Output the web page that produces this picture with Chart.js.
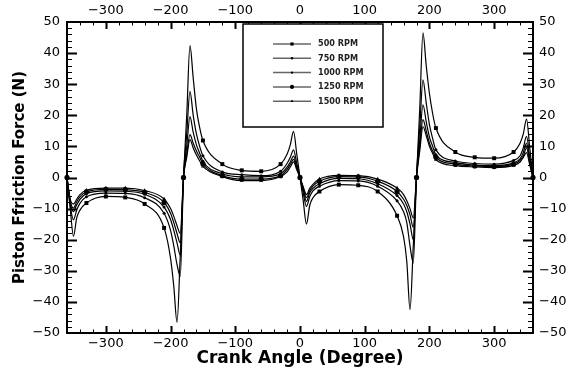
<!DOCTYPE html>
<html>
<head>
<meta charset="utf-8">
<script src="https://cdn.jsdelivr.net/npm/chart.js@4.4.1/dist/chart.umd.min.js"></script>
<style>
  html, body { margin: 0; padding: 0; background: #fff; }
</style>
</head>
<body>
<canvas id="frictionChart" width="569" height="367"></canvas>
<script>
// Crank angle samples (degree)
const angles = [-360, -355, -350, -345, -340, -330, -300, -270, -240, -210, -200, -195, -190, -185,
  -180, -175, -170, -165, -160, -155, -150, -120, -90, -60, -30, -20, -15, -10, -5,
  0, 5, 10, 15, 20, 30, 60, 90, 120, 150, 160, 165, 170, 175,
  180, 185, 190, 195, 200, 205, 210, 240, 270, 300, 330, 340, 345, 350, 355, 360];

// Piston friction force (N)
const rpm500 = [0, -10, -18.9, -13, -10.5, -8.2, -6.1, -6.4, -8.5, -16.2, -26, -35, -46.6, -25,
  0, 20, 42.4, 32, 22, 16, 11.9, 4.3, 2.3, 2.0, 4.3, 7.5, 10.5, 14.8, 7.5,
  0, -7.5, -15, -9, -6.5, -4.5, -2.3, -2.5, -4.5, -12.3, -19, -27, -42.5, -22,
  0, 22, 46.5, 36, 27, 20.5, 15.9, 8.2, 6.5, 6.2, 8.2, 11, 14, 18.8, 9.5, 0];
const rpm750 = [0, -9, -13.6, -10.5, -8.3, -6.2, -5.0, -5.1, -6.5, -11.5, -17, -22, -28, -31.8,
  0, 14, 27.7, 20, 14, 10, 7.0, 1.8, 0.9, 0.6, 2.0, 4.5, 6.5, 8.9, 4.5,
  0, -5, -9.3, -6.2, -4.3, -2.8, -1.0, -1.1, -2.8, -7.5, -11, -14.5, -22, -27.5,
  0, 16, 31.4, 24, 17, 12.5, 8.9, 5.3, 4.5, 4.3, 5.5, 7, 9.5, 13.2, 6.5, 0];
const rpm1000 = [0, -8, -11, -8.8, -7, -5.2, -4.3, -4.4, -5.4, -9.5, -13.5, -17, -21, -25,
  0, 10, 19.6, 14.5, 10.5, 7.8, 5.2, 1.2, 0.2, 0.2, 1.2, 3.3, 5, 6.9, 3.5,
  0, -4, -7.7, -5, -3.5, -2, -0.3, -0.4, -2, -5.8, -8.5, -11, -15, -20,
  0, 12, 23.4, 18, 13, 10, 7.3, 4.8, 4.0, 3.8, 4.7, 6, 8, 11, 5.5, 0];
const rpm1250 = [0, -7.5, -9.8, -7.8, -6.2, -4.6, -3.8, -3.9, -4.8, -8, -11.5, -14.5, -18, -21,
  0, 7.5, 13.8, 11, 8.5, 6.5, 4.4, 0.6, -0.5, -0.5, 0.6, 2.6, 4.2, 5.8, 3,
  0, -3.5, -6.5, -4.3, -2.8, -1.2, 0.3, 0.2, -1.2, -4.5, -7, -9, -12, -16,
  0, 10, 18.6, 15, 11, 8.5, 6.5, 4.3, 3.7, 3.5, 4.3, 5.5, 7, 9.5, 4.7, 0];
const rpm1500 = [0, -7, -8.5, -7, -5.5, -4.1, -3.4, -3.4, -4.2, -6.9, -10, -12.5, -15.5, -18,
  0, 6.5, 12.2, 9.5, 7.2, 5.3, 3.6, 0.3, -1.0, -1.0, 0.3, 1.8, 3.4, 5.0, 2.5,
  0, -3, -5.5, -3.5, -2.2, -0.5, 0.7, 0.6, -0.5, -3.4, -5.5, -7.5, -10, -13,
  0, 8.5, 16.4, 13.5, 10, 7.7, 5.7, 3.8, 3.4, 3.2, 3.9, 5, 6.5, 8, 4, 0];

const seriesLabels = ['500 RPM', '750 RPM', '1000 RPM', '1250 RPM', '1500 RPM'];
const xTickValues = [-300, -200, -100, 0, 100, 200, 300];

const series = [rpm500, rpm750, rpm1000, rpm1250, rpm1500];
const markerStyles = ['rect', 'circle', 'circle', 'circle', 'triangle'];
const markerSizes = [2.8, 1.5, 1.5, 2.6, 2.2];

function drawMarker(ctx, style, r, x, y) {
    ctx.beginPath();
    if (style === 'rect') {
        const s = r * Math.SQRT1_2;
        ctx.rect(x - s, y - s, 2 * s, 2 * s);
    } else if (style === 'triangle') {
        ctx.moveTo(x, y - r);
        ctx.lineTo(x + r * 0.87, y + r * 0.5);
        ctx.lineTo(x - r * 0.87, y + r * 0.5);
        ctx.closePath();
    } else {
        ctx.arc(x, y, r, 0, Math.PI * 2);
    }
    ctx.fill();
}

// Inward ticks (major + minor) on all four sides, plus the frame
const frameTicks = {
    id: 'frameTicks',
    afterDatasetsDraw(chart) {
        const { ctx, chartArea: a, scales: { x, y } } = chart;
        ctx.save();
        ctx.strokeStyle = '#000';
        for (let v = -340; v <= 340; v += 20) {
            const px = Math.round(x.getPixelForValue(v)) + 0.5;
            const major = v % 100 === 0;
            const len = major ? 7 : 3.5;
            ctx.lineWidth = major ? 2 : 1;
            ctx.beginPath();
            ctx.moveTo(px, a.bottom); ctx.lineTo(px, a.bottom - len);
            ctx.moveTo(px, a.top); ctx.lineTo(px, a.top + len);
            ctx.stroke();
        }
        for (let v = -48; v <= 48; v += 2) {
            const py = Math.round(y.getPixelForValue(v)) + 0.5;
            const major = v % 10 === 0;
            const len = major ? 10 : 5;
            ctx.lineWidth = major ? 2 : 1;
            ctx.beginPath();
            ctx.moveTo(a.left, py); ctx.lineTo(a.left + len, py);
            ctx.moveTo(a.right, py); ctx.lineTo(a.right - len, py);
            ctx.stroke();
        }
        ctx.lineWidth = 2;
        ctx.strokeRect(a.left, a.top, a.right - a.left, a.bottom - a.top);
        ctx.restore();
    }
};

// Boxed legend inside the plot area
const boxLegend = {
    id: 'boxLegend',
    afterDraw(chart) {
        const { ctx } = chart;
        const box = { left: 243, top: 24, right: 383, bottom: 127 };
        ctx.save();
        ctx.fillStyle = '#fff';
        ctx.fillRect(box.left, box.top, box.right - box.left, box.bottom - box.top);
        ctx.strokeStyle = '#000';
        ctx.lineWidth = 1.5;
        ctx.strokeRect(box.left, box.top, box.right - box.left, box.bottom - box.top);
        ctx.font = "bold 9px 'Liberation Sans Narrow', 'DejaVu Sans Condensed', sans-serif";
        ctx.textBaseline = 'middle';
        chart.data.datasets.forEach((ds, i) => {
            const rowY = 44 + i * 14.3;
            ctx.strokeStyle = '#666';
            ctx.lineWidth = 1.5;
            ctx.beginPath();
            ctx.moveTo(273, rowY); ctx.lineTo(311, rowY);
            ctx.stroke();
            ctx.fillStyle = '#000';
            drawMarker(ctx, markerStyles[i], markerSizes[i] * 0.8, 292, rowY);
            ctx.fillStyle = '#222';
            ctx.fillText(ds.label, 318, rowY);
        });
        ctx.restore();
    }
};

const fmtTick = v => (v < 0 ? '\u2212' + Math.abs(v) : String(v));
const tickFont = { family: "'DejaVu Sans', sans-serif", size: 13 };
const setXTicks = scale => { scale.ticks = xTickValues.map(v => ({ value: v })); };

const datasets = series.map((vals, i) => ({
    label: seriesLabels[i],
    data: angles.map((a, j) => ({ x: a, y: vals[j] })),
    borderColor: '#000',
    backgroundColor: '#000',
    borderWidth: 1.2,
    cubicInterpolationMode: 'monotone',
    pointStyle: markerStyles[i],
    pointRadius: ctx => (ctx.raw && ctx.raw.x % 30 === 0 ? markerSizes[i] : 0),
    pointHoverRadius: 0,
    pointBorderWidth: 0,
    clip: false
}));

new Chart(document.getElementById('frictionChart'), {
    type: 'line',
    data: { datasets },
    options: {
        responsive: false,
        animation: false,
        layout: { padding: 0 },
        plugins: {
            legend: { display: false },
            tooltip: { enabled: false }
        },
        scales: {
            x: {
                type: 'linear', position: 'bottom', min: -360, max: 360,
                afterBuildTicks: setXTicks,
                afterFit: s => { s.height = 34; },
                grid: { display: false, drawTicks: false },
                border: { display: false },
                ticks: { font: tickFont, color: '#000', padding: 3, maxRotation: 0, autoSkip: false, callback: fmtTick },
                title: {
                    display: true, text: 'Crank Angle (Degree)', color: '#000',
                    font: { family: "'DejaVu Sans', sans-serif", size: 17, weight: 'bold', lineHeight: 1 },
                    padding: 0
                }
            },
            x2: {
                type: 'linear', position: 'top', min: -360, max: 360,
                afterBuildTicks: setXTicks,
                afterFit: s => { s.height = 22; },
                grid: { display: false, drawTicks: false },
                border: { display: false },
                ticks: { font: tickFont, color: '#000', padding: 4, maxRotation: 0, autoSkip: false, callback: fmtTick }
            },
            y: {
                type: 'linear', position: 'left', min: -50, max: 50,
                afterFit: s => { s.width = 67; },
                grid: { display: false, drawTicks: false },
                border: { display: false },
                ticks: { stepSize: 10, font: tickFont, color: '#000', padding: 7, callback: fmtTick },
                title: {
                    display: true, text: 'Piston Ffriction Force (N)', color: '#000',
                    font: { family: "'DejaVu Sans', sans-serif", size: 15, weight: 'bold', lineHeight: 1 },
                    padding: { top: 13, bottom: 0 }
                }
            },
            y2: {
                type: 'linear', position: 'right', min: -50, max: 50,
                afterFit: s => { s.width = 36; },
                grid: { display: false, drawTicks: false },
                border: { display: false },
                ticks: { stepSize: 10, font: tickFont, color: '#000', padding: 6, callback: fmtTick }
            }
        }
    },
    plugins: [frameTicks, boxLegend]
});
</script>
</body>
</html>
